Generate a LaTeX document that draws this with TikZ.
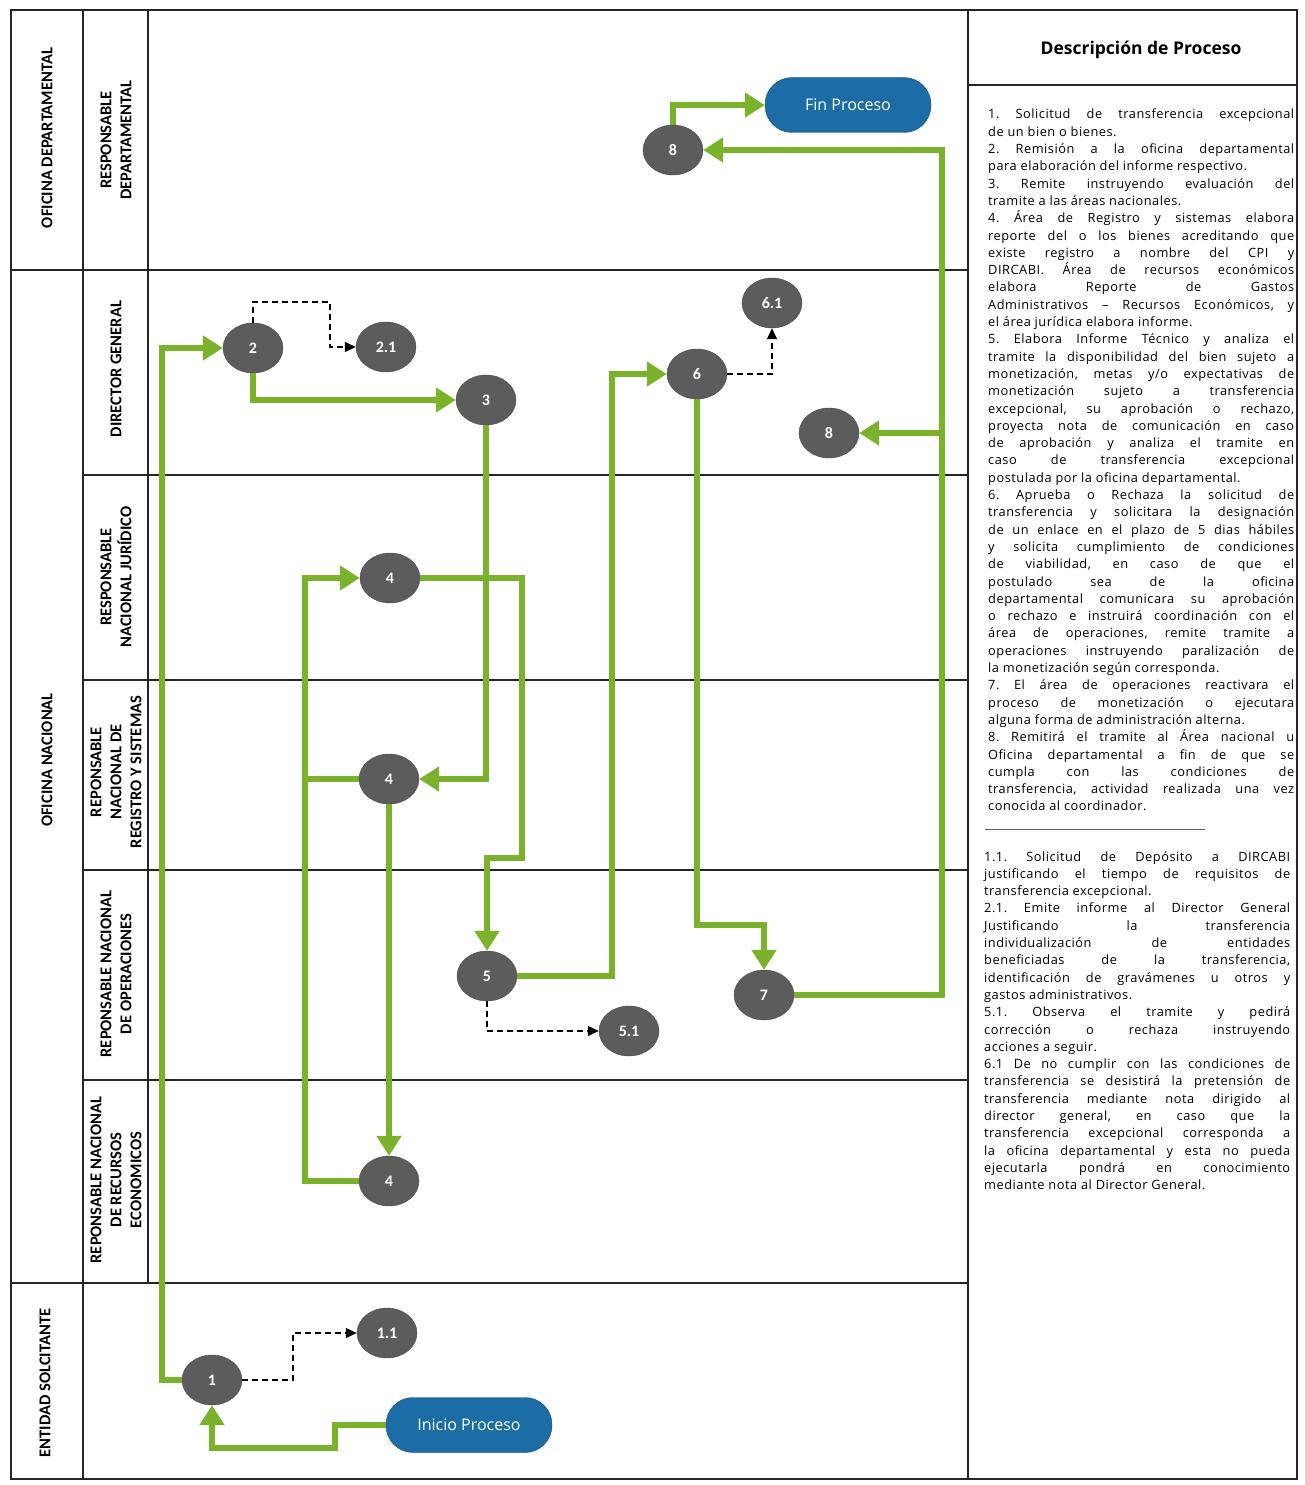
\documentclass[tikz,border=0pt]{standalone}
\usepackage{fontspec}
\setmainfont{Open Sans}
\newfontfamily\lanefont{Carlito}
\newfontfamily\descfont[LetterSpace=4]{Open Sans}
\usetikzlibrary{arrows.meta,shapes.geometric}
\definecolor{flowgreen}{RGB}{122,178,44}
\definecolor{stepgray}{RGB}{92,92,92}
\definecolor{pillblue}{RGB}{28,108,165}
\newcommand{\desctext}[1]{\parbox{306pt}{\descfont\fontsize{12.8}{17.3}\selectfont
  \frenchspacing\tolerance=10000 \hyphenpenalty=10000 \hbadness=10000 #1}}

\begin{document}
\begin{tikzpicture}[x=1pt,y=-1pt,
  stepnode/.style={ellipse,fill=stepgray,draw=stepgray!80!black,minimum width=60pt,
    minimum height=50pt,inner sep=0pt,text=white,font=\lanefont\bfseries\fontsize{16}{16}\selectfont},
  pill/.style={rectangle,rounded corners=27pt,fill=pillblue,draw=pillblue!70!black,
    minimum width=166pt,minimum height=55pt,text=white,font=\fontsize{16}{16}\selectfont},
  flow/.style={line width=6pt,draw=flowgreen,-{Triangle[length=20pt,width=24pt]}},
  flowline/.style={line width=6pt,draw=flowgreen},
  subflow/.style={line width=1.3pt,draw=black,dash pattern=on 6pt off 4pt,
    -{Triangle[length=11pt,width=10pt]}},
  frame/.style={line width=1.2pt,draw=black!85},
  grouplabel/.style={rotate=90,align=center,font=\lanefont\bfseries\fontsize{16.5}{19}\selectfont},
  lanelabel/.style={rotate=90,align=center,font=\lanefont\bfseries\fontsize{16.5}{20}\selectfont}]
  \useasboundingbox (0,0) rectangle (1305,1485);

  % frame and lanes
  \draw[frame] (11,10) rectangle (1297,1479);
  \draw[frame] (83,10) -- (83,1479);
  \draw[frame] (148,10) -- (148,1283);
  \draw[frame] (968,10) -- (968,1479);
  \draw[frame] (11,270) -- (968,270);
  \foreach \y in {475,680,870,1080}
    \draw[frame] (83,\y) -- (968,\y);
  \draw[frame] (11,1283) -- (968,1283);
  \draw[frame] (968,85) -- (1297,85);
  \draw[line width=1pt,draw=black!60] (985,829) -- (1205,829);

  \node[grouplabel] (g1) at (47,138) {OFICINA DEPARTAMENTAL};
  \node[grouplabel] (g2) at (47,760) {OFICINA NACIONAL};
  \node[grouplabel] (g3) at (45,1383) {ENTIDAD SOLCITANTE};
  \node[lanelabel] (l1) at (116,140) {RESPONSABLE\\DEPARTAMENTAL};
  \node[lanelabel] (l2) at (116,369) {DIRECTOR GENERAL};
  \node[lanelabel] (l3) at (116,577) {RESPONSABLE\\NACIONAL JURÍDICO};
  \node[lanelabel] (l4) at (116,772) {REPONSABLE\\NACIONAL DE\\REGISTRO Y SISTEMAS};
  \node[lanelabel] (l5) at (116,974) {REPONSABLE NACIONAL\\DE OPERACIONES};
  \node[lanelabel] (l6) at (116,1180) {REPONSABLE NACIONAL\\DE RECURSOS\\ECONOMICOS};

  % steps
  \node[stepnode] (n81) at (673,150) {8};
  \node[pill] (fin) at (848,105) {Fin Proceso};
  \node[stepnode] (n2) at (253,348) {2};
  \node[stepnode] (n21) at (386,347) {2.1};
  \node[stepnode] (n3) at (486,400) {3};
  \node[stepnode] (n61) at (772,303) {6.1};
  \node[stepnode] (n6) at (697,374) {6};
  \node[stepnode] (n82) at (829,433) {8};
  \node[stepnode] (n41) at (390,578) {4};
  \node[stepnode] (n42) at (389,779) {4};
  \node[stepnode] (n5) at (487,976) {5};
  \node[stepnode] (n51) at (629,1031) {5.1};
  \node[stepnode] (n7) at (764,995) {7};
  \node[stepnode] (n43) at (389,1181) {4};
  \node[stepnode] (n11) at (387,1333) {1.1};
  \node[stepnode] (n1) at (212,1380) {1};
  \node[pill] (inicio) at (469,1425) {Inicio Proceso};
  \coordinate (trunk) at (305,779);
  \coordinate (split) at (942,433);

  % main flow
  \draw[flow] (inicio.west) -| (335,1448) -| (n1.south);
  \draw[flow] (n1.west) -| (162,348) -- (n2.west);
  \draw[flow] (n2.south) |- (n3.west);
  \draw[flow] (n3.south) |- (n42.east);
  \draw[flow] (n43.west) -| (305,578) -- (n41.west);
  \draw[flowline] (trunk) -- (n42.west);
  \draw[flow] (n42.south) -- (n43.north);
  \draw[flow] (n41.east) -| (522,858) -| (n5.north);
  \draw[flow] (n5.east) -| (612,374) -- (n6.west);
  \draw[flow] (n6.south) |- (764,925) -- (n7.north);
  \draw[flow] (n7.east) -| (942,150) -- (n81.east);
  \draw[flow] (split) -- (n82.east);
  \draw[flow] (n81.north) |- (fin.west);

  % side steps
  \draw[subflow] (n1.east) -| (293,1333) -- (n11.west);
  \draw[subflow] (n2.north) |- (330,302) |- (n21.west);
  \draw[subflow] (n5.south) |- (n51.west);
  \draw[subflow] (n6.east) -| (n61.south);

  % description
  \node[font=\bfseries\fontsize{17.5}{18}\selectfont] (head) at (1141,50) {Descripción de Proceso};
  \node[anchor=north west,inner sep=0pt] (desc) at (988,109) {\desctext{%
1. Solicitud de transferencia excepcional\linebreak
de un bien o bienes.\par
2. Remisión a la oficina departamental\linebreak
para elaboración del informe respectivo.\par
3. Remite instruyendo evaluación del\linebreak
tramite a las áreas nacionales.\par
4. Área de Registro y sistemas elabora\linebreak
reporte del o los bienes acreditando que\linebreak
existe registro a nombre del CPI y\linebreak
DIRCABI. Área de recursos económicos\linebreak
elabora Reporte de Gastos\linebreak
Administrativos – Recursos Económicos, y\linebreak
el área jurídica elabora informe.\par
5. Elabora Informe Técnico y analiza el\linebreak
tramite la disponibilidad del bien sujeto a\linebreak
monetización, metas y/o expectativas de\linebreak
monetización sujeto a transferencia\linebreak
excepcional, su aprobación o rechazo,\linebreak
proyecta nota de comunicación en caso\linebreak
de aprobación y analiza el tramite en\linebreak
caso de transferencia excepcional\linebreak
postulada por la oficina departamental.\par
6. Aprueba o Rechaza la solicitud de\linebreak
transferencia y solicitara la designación\linebreak
de un enlace en el plazo de 5 dias hábiles\linebreak
y solicita cumplimiento de condiciones\linebreak
de viabilidad, en caso de que el\linebreak
postulado sea de la oficina\linebreak
departamental comunicara su aprobación\linebreak
o rechazo e instruirá coordinación con el\linebreak
área de operaciones, remite tramite a\linebreak
operaciones instruyendo paralización de\linebreak
la monetización según corresponda.\par
7. El área de operaciones reactivara el\linebreak
proceso de monetización o ejecutara\linebreak
alguna forma de administración alterna.\par
8. Remitirá el tramite al Área nacional u\linebreak
Oficina departamental a fin de que se\linebreak
cumpla con las condiciones de\linebreak
transferencia, actividad realizada una vez\linebreak
conocida al coordinador.}};
  \node[anchor=north west,inner sep=0pt] (subdesc) at (984,851) {\desctext{%
1.1. Solicitud de Depósito a DIRCABI\linebreak
justificando el tiempo de requisitos de\linebreak
transferencia excepcional.\par
2.1. Emite informe al Director General\linebreak
Justificando la transferencia\linebreak
individualización de entidades\linebreak
beneficiadas de la transferencia,\linebreak
identificación de gravámenes u otros y\linebreak
gastos administrativos.\par
5.1. Observa el tramite y pedirá\linebreak
corrección o rechaza instruyendo\linebreak
acciones a seguir.\par
6.1 De no cumplir con las condiciones de\linebreak
transferencia se desistirá la pretensión de\linebreak
transferencia mediante nota dirigido al\linebreak
director general, en caso que la\linebreak
transferencia excepcional corresponda a\linebreak
la oficina departamental y esta no pueda\linebreak
ejecutarla pondrá en conocimiento\linebreak
mediante nota al Director General.}};
\end{tikzpicture}
\end{document}
